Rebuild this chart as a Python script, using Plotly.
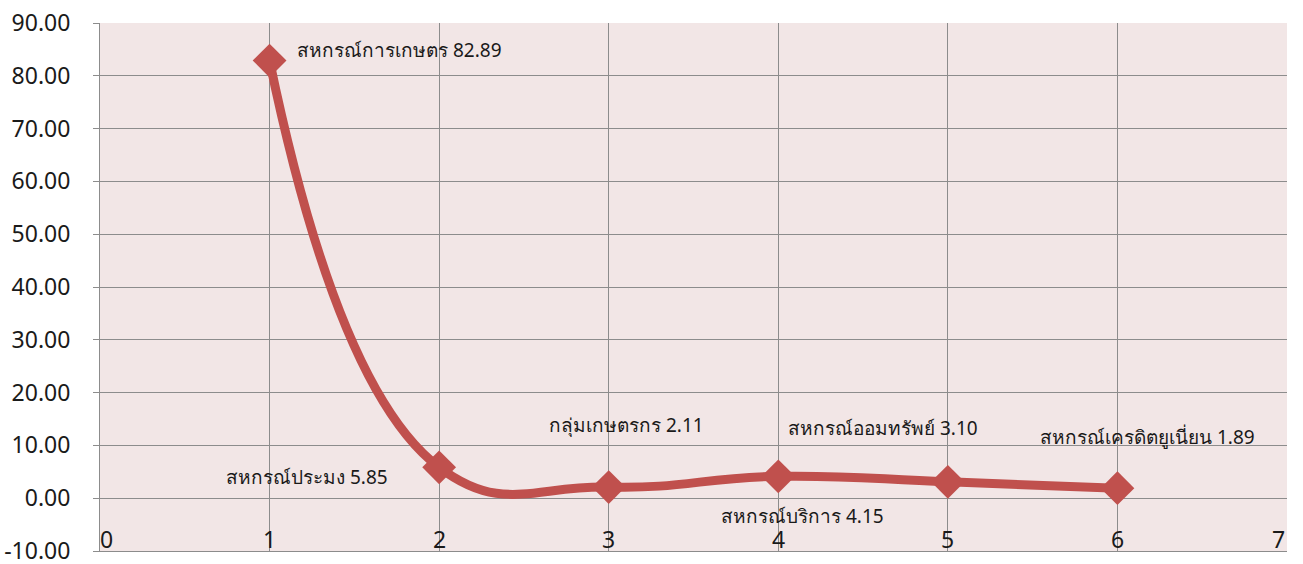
import plotly.graph_objects as go

# data
x_pos = [1, 2, 3, 4, 5, 6]
values = [82.89, 5.85, 2.11, 4.15, 3.10, 1.89]
names = ["สหกรณ์การเกษตร", "สหกรณ์ประมง", "กลุ่มเกษตรกร",
         "สหกรณ์บริการ", "สหกรณ์ออมทรัพย์", "สหกรณ์เครดิตยูเนี่ยน"]
x_ticks = [0, 1, 2, 3, 4, 5, 6, 7]
y_ticks = [-10, 0, 10, 20, 30, 40, 50, 60, 70, 80, 90]

RED = "#C0504D"
FONT = "Tahoma, 'Noto Sans', 'DejaVu Sans', sans-serif"

fig = go.Figure()
fig.add_trace(go.Scatter(
    x=x_pos, y=values, mode="lines+markers",
    line=dict(color=RED, width=9, shape="spline", smoothing=1.3),
    marker=dict(symbol="diamond", size=26, color=RED),
    hoverinfo="x+y", showlegend=False,
))

# data labels, placed like the original (offset per point)
label_pos = [  # (xshift, yshift, anchor)
    (25, 11, "left"),
    (-49, -10, "right"),
    (18, 62, "center"),
    (24, -40, "center"),
    (-65, 54, "center"),
    (30, 51, "center"),
]
for xv, yv, nm, (dx, dy, anc) in zip(x_pos, values, names, label_pos):
    fig.add_annotation(
        x=xv, y=yv, text=f"{nm} {yv:.2f}", showarrow=False,
        xshift=dx, yshift=dy, xanchor=anc,
        font=dict(family=FONT, size=19, color="#1a1a1a"),
    )

# x tick labels sit just above the bottom axis line, inside the plot
for t in x_ticks:
    fig.add_annotation(
        x=t, y=0, yref="paper", text=str(t), showarrow=False,
        yanchor="bottom", xanchor="left" if t == 0 else ("right" if t == 7 else "center"),
        xshift=-2 if t == 0 else 0,
        yshift=-6, font=dict(family=FONT, size=23, color="#1a1a1a"),
    )

fig.update_xaxes(
    range=[0, 7], tickvals=x_ticks, showticklabels=False,
    showgrid=True, gridcolor="#8c8c8c", gridwidth=1,
    showline=True, linecolor="#8c8c8c", linewidth=1, ticks="",
    zeroline=False, automargin=False,
)
fig.update_yaxes(
    range=[-10, 90], tickvals=y_ticks, ticktext=[f"{t:.2f}" for t in y_ticks],
    showgrid=True, gridcolor="#8c8c8c", gridwidth=1,
    showline=True, linecolor="#8c8c8c", linewidth=1,
    ticks="outside", ticklen=6, tickcolor="#8c8c8c",
    ticklabelstandoff=18, ticklabeloverflow="allow",
    tickfont=dict(family=FONT, size=23, color="#1a1a1a"),
    zeroline=False, automargin=False,
)
fig.update_layout(
    width=1303, height=564,
    margin=dict(l=100, r=16, t=23, b=13),
    plot_bgcolor="#F2E6E6", paper_bgcolor="white",
)
fig.write_html("out.html", config={"displayModeBar": False},
               post_script="document.body.style.margin='0';")
